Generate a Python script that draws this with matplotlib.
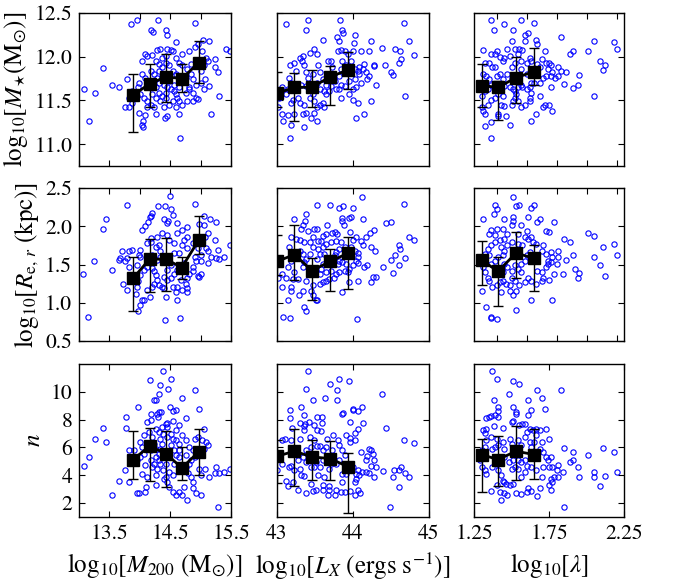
import numpy as np
import matplotlib
matplotlib.use("Agg")
from matplotlib import pyplot as plt

plt.rcParams['font.family'] = 'serif'
plt.rcParams['font.serif'] = ['STIXGeneral', 'Liberation Serif', 'DejaVu Serif']
plt.rcParams['mathtext.fontset'] = 'stix'

# ---------------- scatter data ----------------
# row 1: log10 M*  ;  row 2: log10 Re ;  row 3: Sersic n
ms_m200 = [(13.85, 12.37), (13.96, 12.42), (14.30, 12.42), (14.90, 12.39), (14.19, 12.30), (14.22, 12.28),
           (14.43, 12.31), (14.45, 12.25), (14.59, 12.17), (15.04, 12.19), (15.13, 12.18), (15.41, 12.09),
           (15.48, 12.07), (13.40, 11.87), (13.08, 11.63), (13.27, 11.59), (13.54, 11.68), (13.66, 11.65),
           (13.17, 11.26), (13.79, 11.75), (13.98, 11.70), (13.97, 11.65), (13.87, 11.61), (13.82, 11.53),
           (13.76, 11.43), (13.82, 11.42), (13.98, 11.36), (14.08, 11.33), (14.26, 11.35), (14.41, 11.30),
           (14.45, 11.32), (14.65, 11.34), (14.06, 11.26), (14.04, 11.22), (14.05, 11.20), (14.66, 11.07),
           (15.17, 11.34), (15.31, 11.55), (15.24, 11.97), (15.28, 11.83), (15.24, 11.88), (15.08, 11.75),
           (15.06, 11.63), (15.14, 11.67), (14.81, 11.63), (14.78, 11.49), (14.87, 11.49), (14.92, 11.53),
           (14.95, 11.52), (14.09, 12.03), (14.12, 12.01), (14.20, 12.02), (14.04, 11.95), (14.29, 12.08),
           (14.34, 12.09), (14.45, 12.09), (14.51, 12.08), (14.54, 12.07), (14.59, 11.99), (14.70, 12.03),
           (14.81, 12.07), (14.90, 12.11), (14.95, 12.15), (15.03, 12.07), (15.09, 11.99), (15.12, 11.95),
           (14.65, 11.93), (14.70, 11.90), (14.18, 11.84), (14.23, 11.80), (14.31, 11.84), (14.37, 11.88),
           (14.43, 11.93), (14.48, 11.90), (14.54, 11.84), (14.59, 11.80), (14.29, 11.76), (14.31, 11.70),
           (14.40, 11.68), (14.45, 11.65), (14.51, 11.63), (14.56, 11.61), (14.59, 11.57), (14.62, 11.53),
           (14.54, 11.49), (14.48, 11.45), (14.40, 11.42), (14.34, 11.49), (14.26, 11.53), (14.20, 11.57),
           (14.18, 11.45), (14.12, 11.43), (14.23, 11.43), (14.59, 11.42), (14.31, 11.59), (14.37, 11.55),
           (14.43, 11.53), (14.70, 11.72), (14.76, 11.76), (14.84, 11.80), (14.87, 11.74), (14.92, 11.68),
           (14.81, 11.65), (14.76, 11.59), (14.87, 11.59), (15.01, 11.70), (14.12, 11.49), (14.07, 11.53),
           (14.01, 11.57), (13.96, 11.55), (13.87, 11.47), (14.65, 11.65), (14.56, 11.68), (14.48, 11.72),
           (14.65, 11.49), (14.70, 11.45), (14.37, 11.99), (14.43, 12.01), (14.26, 11.95), (14.31, 11.92),
           (14.09, 11.76), (14.04, 11.80), (15.01, 11.84), (15.06, 11.90), (14.84, 11.92), (14.78, 11.86),
           (14.37, 11.78), (14.26, 11.65), (14.43, 11.59)]

ms_lx = [(43.12, 12.37), (43.41, 12.42), (43.38, 12.30), (43.83, 12.42), (43.86, 12.31), (43.87, 12.27),
         (43.79, 12.22), (43.81, 12.18), (43.60, 12.19), (44.02, 12.25), (44.01, 12.16), (44.24, 12.18),
         (44.67, 12.39), (44.74, 12.18), (44.80, 12.02), (44.38, 12.10), (44.55, 12.09), (44.62, 12.07),
         (44.63, 11.97), (44.61, 11.93), (44.50, 11.83), (44.53, 11.79), (44.42, 11.90), (44.27, 11.91),
         (44.28, 11.89), (44.30, 11.68), (44.24, 11.49), (44.14, 11.35), (44.04, 11.30), (44.68, 11.55),
         (44.11, 12.07), (44.21, 12.07), (43.49, 12.09), (43.52, 12.03), (43.43, 12.04), (43.34, 12.01),
         (43.30, 11.99), (43.23, 11.93), (43.17, 11.91), (43.25, 11.84), (43.33, 11.95), (43.36, 11.90),
         (43.38, 11.82), (43.41, 11.76), (43.47, 11.80), (43.54, 11.90), (43.56, 11.82), (43.60, 11.74),
         (43.65, 11.68), (43.62, 11.61), (43.67, 11.95), (43.71, 11.95), (43.73, 11.88), (43.80, 12.07),
         (43.84, 12.08), (43.89, 12.07), (43.93, 12.03), (44.00, 12.07), (43.86, 11.95), (43.91, 11.90),
         (44.02, 11.86), (44.06, 11.84), (44.08, 11.88), (44.13, 11.86), (44.17, 11.82), (44.21, 11.78),
         (44.19, 11.74), (44.10, 11.70), (44.04, 11.65), (44.00, 11.63), (43.95, 11.57), (44.00, 11.51),
         (44.06, 11.47), (43.89, 11.67), (43.84, 11.68), (43.82, 11.63), (43.84, 11.53), (43.76, 11.72),
         (43.71, 11.67), (43.69, 11.61), (43.65, 11.57), (43.60, 11.47), (43.62, 11.42), (43.56, 11.45),
         (43.52, 11.42), (43.49, 11.36), (43.45, 11.30), (43.52, 11.26), (43.36, 11.20), (43.17, 11.07),
         (43.19, 11.22), (43.08, 11.26), (43.06, 11.34), (43.14, 11.33), (43.22, 11.34), (43.01, 11.43),
         (43.16, 11.76), (43.19, 11.70), (43.14, 11.63), (43.12, 11.57), (43.21, 11.51), (43.19, 11.47),
         (43.28, 11.53), (43.30, 11.47), (43.36, 11.45), (43.38, 11.36), (43.34, 11.35), (43.43, 11.53),
         (43.47, 11.57), (43.49, 11.49), (43.45, 11.63), (43.38, 11.67), (43.32, 11.68), (43.97, 11.95),
         (44.08, 11.80), (44.15, 11.92), (43.84, 11.86), (43.78, 11.63), (43.73, 11.80), (43.82, 11.78),
         (43.95, 11.72), (44.02, 11.74), (43.56, 11.63), (43.52, 11.70), (43.06, 11.65), (43.03, 11.53)]

ms_lam = [(1.36, 12.42), (1.45, 12.37), (1.56, 12.42), (1.65, 12.39), (1.38, 12.30), (1.51, 12.31),
          (1.59, 12.25), (1.61, 12.27), (1.59, 12.18), (1.66, 12.19), (1.67, 12.15), (1.50, 12.18),
          (1.83, 12.22), (2.05, 12.18), (2.18, 12.17), (2.20, 12.09), (2.01, 12.07), (1.91, 12.06),
          (1.89, 12.03), (2.09, 11.95), (2.12, 11.90), (2.11, 11.85), (1.95, 11.79), (1.94, 11.68),
          (1.91, 11.64), (2.05, 11.55), (1.31, 12.08), (1.40, 12.07), (1.39, 12.03), (1.36, 12.03),
          (1.45, 11.99), (1.44, 11.95), (1.42, 12.00), (1.47, 12.09), (1.52, 12.09), (1.55, 12.09),
          (1.57, 12.08), (1.54, 12.03), (1.49, 12.01), (1.62, 11.99), (1.63, 11.95), (1.60, 11.93),
          (1.56, 11.95), (1.52, 11.93), (1.70, 11.97), (1.72, 12.07), (1.73, 11.93), (1.75, 11.93),
          (1.76, 11.90), (1.74, 11.86), (1.77, 11.82), (1.81, 11.88), (1.83, 11.84), (1.86, 11.83),
          (1.81, 11.78), (1.79, 11.76), (1.76, 11.78), (1.73, 11.78), (1.71, 11.76), (1.69, 11.70),
          (1.65, 11.70), (1.63, 11.70), (1.62, 11.65), (1.60, 11.63), (1.57, 11.65), (1.54, 11.65),
          (1.51, 11.63), (1.49, 11.65), (1.45, 11.67), (1.44, 11.74), (1.42, 11.80), (1.37, 11.88),
          (1.35, 11.93), (1.32, 11.93), (1.31, 11.80), (1.33, 11.78), (1.35, 11.74), (1.36, 11.68),
          (1.34, 11.63), (1.32, 11.61), (1.30, 11.55), (1.30, 11.43), (1.31, 11.38), (1.32, 11.34),
          (1.34, 11.45), (1.36, 11.51), (1.39, 11.53), (1.41, 11.57), (1.44, 11.55), (1.43, 11.45),
          (1.45, 11.44), (1.41, 11.34), (1.41, 11.32), (1.46, 11.32), (1.49, 11.22), (1.32, 11.21),
          (1.36, 11.25), (1.36, 11.07), (1.63, 11.26), (1.66, 11.35), (1.71, 11.42), (1.72, 11.45),
          (1.69, 11.55), (1.62, 11.53), (1.62, 11.49), (1.59, 11.45), (1.56, 11.42), (1.52, 11.53),
          (1.50, 11.45), (1.51, 11.49), (1.53, 11.57), (1.54, 11.49), (1.52, 11.61), (1.76, 11.65),
          (1.69, 11.88), (1.67, 11.92), (1.65, 11.86), (1.60, 11.80), (1.56, 11.86), (1.54, 11.76),
          (1.50, 11.76), (1.47, 11.80), (1.50, 11.88), (1.75, 11.45), (1.77, 11.38), (1.63, 11.59),
          (1.56, 11.68), (1.85, 11.69), (1.39, 11.88), (1.40, 11.78)]

re_m200 = [(14.49, 2.39), (13.79, 2.28), (14.90, 2.29), (13.44, 2.10), (13.40, 1.96), (14.30, 2.26),
           (14.41, 2.27), (14.20, 2.17), (14.19, 2.13), (14.17, 2.12), (14.14, 2.05), (14.08, 2.00),
           (14.04, 1.95), (14.39, 2.09), (14.44, 2.04), (14.46, 2.07), (14.52, 2.23), (14.55, 2.15),
           (14.62, 2.04), (14.62, 1.91), (14.70, 1.95), (14.78, 1.99), (15.06, 2.13), (15.16, 2.09),
           (15.06, 2.02), (15.25, 2.06), (15.23, 1.82), (15.28, 1.69), (15.25, 1.58), (15.31, 1.57),
           (15.39, 1.60), (15.49, 1.75), (14.97, 2.03), (15.12, 1.91), (15.07, 1.86), (14.95, 1.71),
           (15.09, 1.71), (15.17, 1.60), (15.12, 1.67), (15.01, 1.62), (15.01, 1.54), (15.12, 1.52),
           (15.01, 1.38), (14.98, 1.34), (14.95, 1.35), (14.87, 1.41), (14.81, 1.38), (14.78, 1.32),
           (14.76, 1.25), (14.78, 1.19), (14.78, 1.14), (14.67, 1.30), (14.62, 1.21), (14.59, 1.14),
           (14.62, 1.04), (14.66, 0.80), (14.41, 0.77), (14.43, 1.08), (14.40, 1.19), (14.36, 1.21),
           (14.31, 1.23), (14.29, 1.30), (14.26, 1.36), (14.23, 1.41), (14.20, 1.45), (14.12, 1.47),
           (14.07, 1.43), (14.01, 1.36), (13.97, 1.28), (13.96, 1.21), (13.93, 1.12), (14.00, 0.97),
           (13.97, 0.89), (14.04, 1.04), (14.07, 1.04), (14.12, 1.17), (14.16, 1.08), (14.20, 1.21),
           (14.23, 1.25), (14.29, 1.56), (14.34, 1.60), (14.34, 1.67), (14.31, 1.75), (14.26, 1.73),
           (14.29, 1.86), (14.37, 1.91), (14.45, 1.89), (14.48, 1.82), (14.56, 1.78), (14.56, 1.65),
           (14.65, 1.65), (14.70, 1.75), (14.73, 1.82), (14.78, 1.71), (14.78, 1.86), (14.87, 1.78),
           (14.90, 1.60), (14.92, 1.54), (14.87, 1.47), (14.73, 1.52), (14.67, 1.43), (14.51, 1.49),
           (14.45, 1.43), (14.40, 1.34), (14.45, 1.30), (14.51, 1.32), (14.56, 1.38), (14.62, 1.43),
           (14.54, 1.21), (14.70, 1.17), (13.79, 1.17), (13.73, 1.25), (13.82, 1.47), (13.76, 1.54),
           (13.79, 1.58), (13.82, 1.67), (13.87, 1.69), (14.01, 1.69), (14.01, 1.60), (14.12, 1.78),
           (14.18, 1.80), (14.19, 1.84), (13.98, 1.62), (13.96, 1.49), (14.20, 1.62), (13.54, 1.43),
           (13.67, 1.58), (13.07, 1.37), (13.15, 0.82), (13.25, 1.54), (13.70, 1.68), (13.65, 1.56)]

re_lx = [(44.12, 2.38), (44.67, 2.29), (43.53, 2.28), (43.70, 2.28), (43.81, 2.24), (43.87, 2.26),
         (44.00, 2.24), (43.23, 2.10), (43.38, 2.16), (43.37, 2.07), (43.34, 2.01), (43.32, 1.97),
         (43.49, 1.97), (43.52, 1.97), (43.66, 2.02), (43.86, 2.11), (43.86, 2.07), (43.88, 2.01),
         (43.95, 2.11), (43.97, 2.12), (44.13, 2.10), (44.28, 1.95), (44.22, 1.91), (44.17, 1.86),
         (44.10, 1.81), (44.13, 1.75), (44.24, 1.73), (44.29, 1.68), (44.43, 2.04), (44.50, 2.06),
         (44.74, 1.86), (44.80, 1.82), (44.61, 1.75), (44.62, 1.70), (44.69, 1.59), (44.55, 1.62),
         (44.50, 1.56), (44.61, 1.50), (44.53, 1.39), (44.39, 1.47), (44.26, 1.34), (44.30, 1.34),
         (44.24, 1.27), (44.19, 1.50), (44.15, 1.47), (44.07, 1.52), (44.07, 1.28), (43.95, 1.27),
         (43.86, 1.14), (44.05, 0.79), (43.08, 0.82), (43.17, 0.80), (43.36, 0.94), (43.38, 0.89),
         (43.14, 1.04), (43.06, 1.20), (43.18, 1.20), (43.19, 1.16), (43.29, 1.10), (43.34, 1.16),
         (43.38, 1.29), (43.47, 1.10), (43.51, 1.04), (43.52, 1.04), (43.45, 1.16), (43.47, 1.23),
         (43.56, 1.25), (43.60, 1.27), (43.65, 1.29), (43.69, 1.31), (43.75, 1.33), (43.78, 1.38),
         (43.82, 1.40), (43.89, 1.42), (43.95, 1.44), (44.00, 1.49), (44.04, 1.54), (44.06, 1.60),
         (44.07, 1.65), (44.02, 1.68), (43.97, 1.73), (44.00, 1.82), (44.04, 1.86), (43.96, 1.92),
         (43.76, 1.92), (43.79, 1.90), (43.72, 1.91), (43.65, 1.90), (43.60, 1.87), (43.58, 1.81),
         (43.54, 1.81), (43.47, 1.86), (43.43, 1.80), (43.36, 1.79), (43.30, 1.82), (43.25, 1.83),
         (43.19, 1.86), (43.16, 1.73), (43.19, 1.55), (43.14, 1.47), (43.12, 1.33), (43.21, 1.31),
         (43.28, 1.31), (43.23, 1.40), (43.34, 1.47), (43.36, 1.53), (43.38, 1.57), (43.43, 1.64),
         (43.47, 1.73), (43.54, 1.70), (43.60, 1.73), (43.65, 1.77), (43.71, 1.79), (43.78, 1.81),
         (43.84, 1.79), (43.89, 1.73), (43.82, 1.70), (43.78, 1.66), (43.76, 1.62), (43.62, 1.64),
         (43.56, 1.64), (43.52, 1.57), (43.60, 1.51), (43.58, 1.44), (43.56, 1.38), (43.65, 1.40),
         (43.71, 1.42), (43.80, 1.51), (43.82, 1.55), (43.86, 1.53), (43.91, 1.51), (43.93, 1.40),
         (43.41, 1.94), (43.03, 1.51), (43.01, 1.33), (43.07, 1.38), (43.34, 1.64), (43.30, 1.68)]

re_lam = [(1.51, 2.38), (1.39, 2.28), (1.40, 2.23), (1.53, 2.26), (1.55, 2.28), (1.63, 2.24),
          (1.65, 2.28), (1.31, 2.10), (1.38, 2.16), (1.45, 2.10), (1.51, 2.12), (1.51, 2.07),
          (1.50, 2.01), (1.56, 2.01), (1.61, 2.12), (1.67, 2.05), (1.69, 2.10), (1.78, 2.06),
          (1.73, 1.94), (1.75, 1.92), (1.85, 1.83), (1.89, 1.80), (2.01, 1.91), (2.05, 1.87),
          (2.11, 1.73), (2.18, 1.77), (2.20, 1.62), (2.05, 1.60), (2.09, 1.50), (2.12, 1.35),
          (1.95, 1.39), (1.94, 1.33), (1.92, 1.44), (1.91, 1.62), (1.86, 1.56), (1.81, 1.68),
          (1.81, 1.60), (1.84, 1.37), (1.78, 1.37), (1.75, 1.30), (1.77, 1.03), (1.63, 1.04),
          (1.53, 0.90), (1.36, 0.82), (1.36, 0.80), (1.40, 0.79), (1.33, 0.94), (1.30, 1.16),
          (1.36, 1.95), (1.35, 1.90), (1.40, 1.97), (1.39, 1.88), (1.44, 1.97), (1.47, 1.90),
          (1.45, 1.83), (1.42, 1.82), (1.39, 1.79), (1.36, 1.75), (1.34, 1.70), (1.32, 1.64),
          (1.31, 1.47), (1.32, 1.40), (1.34, 1.33), (1.35, 1.29), (1.37, 1.20), (1.40, 1.23),
          (1.42, 1.27), (1.44, 1.29), (1.46, 1.25), (1.49, 1.23), (1.49, 1.16), (1.51, 1.10),
          (1.53, 1.16), (1.55, 1.23), (1.59, 1.27), (1.61, 1.33), (1.63, 1.29), (1.66, 1.25),
          (1.70, 1.29), (1.71, 1.33), (1.70, 1.40), (1.67, 1.42), (1.73, 1.47), (1.74, 1.51),
          (1.76, 1.53), (1.77, 1.60), (1.76, 1.66), (1.73, 1.64), (1.70, 1.68), (1.71, 1.75),
          (1.66, 1.77), (1.64, 1.79), (1.61, 1.83), (1.59, 1.86), (1.57, 1.75), (1.54, 1.77),
          (1.50, 1.79), (1.47, 1.75), (1.45, 1.68), (1.43, 1.73), (1.44, 1.62), (1.41, 1.60),
          (1.39, 1.55), (1.36, 1.51), (1.35, 1.62), (1.45, 1.51), (1.47, 1.47), (1.50, 1.42),
          (1.52, 1.49), (1.54, 1.44), (1.56, 1.40), (1.56, 1.51), (1.59, 1.55), (1.60, 1.62),
          (1.62, 1.66), (1.50, 1.33), (1.52, 1.29), (1.44, 1.40), (1.43, 1.14), (1.54, 1.90),
          (1.60, 1.94), (1.63, 1.86), (1.74, 1.55), (1.80, 1.51)]

n_m200 = [(14.38, 11.51), (14.16, 10.84), (14.52, 10.89), (14.33, 10.50), (14.46, 10.17), (14.31, 9.81),
          (14.90, 10.12), (14.69, 9.59), (14.26, 9.40), (14.24, 9.40), (13.97, 8.92), (14.98, 8.75),
          (14.50, 8.92), (14.59, 8.68), (14.54, 8.61), (14.31, 8.56), (14.29, 8.44), (14.35, 8.56),
          (14.19, 8.39), (14.18, 7.96), (14.12, 7.82), (14.30, 8.20), (14.43, 7.72), (14.45, 7.77),
          (14.55, 7.89), (14.65, 7.58), (14.76, 8.15), (13.77, 8.20), (13.77, 7.43), (13.40, 7.41),
          (13.27, 6.59), (13.44, 6.40), (13.17, 5.28), (13.08, 4.70), (13.54, 2.59), (13.66, 3.57),
          (13.82, 3.52), (13.75, 4.36), (13.82, 5.85), (13.90, 5.80), (13.96, 5.08), (14.01, 5.32),
          (14.07, 5.56), (14.09, 4.72), (14.04, 4.12), (14.12, 3.88), (14.10, 3.17), (14.08, 2.81),
          (13.96, 2.76), (13.98, 2.76), (14.26, 3.29), (14.26, 4.00), (14.29, 4.48), (14.23, 4.84),
          (14.18, 5.08), (14.20, 4.60), (14.26, 5.32), (14.31, 5.08), (14.34, 4.84), (14.38, 4.36),
          (14.43, 3.88), (14.40, 3.72), (14.45, 3.52), (14.48, 3.17), (14.54, 2.81), (14.59, 2.57),
          (14.65, 2.81), (14.73, 3.17), (14.78, 2.25), (14.70, 2.57), (14.87, 3.05), (14.92, 2.69),
          (15.01, 2.55), (14.88, 3.50), (14.84, 3.88), (14.80, 4.17), (14.76, 4.60), (14.81, 4.84),
          (14.84, 5.08), (14.90, 5.32), (14.98, 4.48), (15.01, 4.00), (15.07, 4.48), (15.13, 3.88),
          (15.25, 4.60), (15.24, 4.17), (15.31, 4.17), (15.39, 4.24), (15.48, 4.44), (15.28, 1.73),
          (15.09, 6.40), (15.06, 5.92), (15.12, 6.16), (15.03, 6.52), (14.90, 6.59), (14.95, 6.76),
          (15.06, 7.36), (14.65, 6.28), (14.59, 6.52), (14.54, 6.64), (14.51, 6.16), (14.56, 5.80),
          (14.59, 5.44), (14.56, 4.84), (14.65, 5.32), (14.38, 7.00), (14.34, 6.64), (14.31, 7.12),
          (14.26, 7.36), (14.20, 6.76), (14.15, 7.12), (14.07, 6.88), (14.01, 6.40), (14.04, 6.04),
          (14.26, 5.92), (14.23, 6.28), (14.37, 6.28), (14.45, 6.76), (14.59, 7.24), (14.70, 6.88),
          (14.76, 6.52), (14.81, 6.04), (14.65, 5.80), (14.76, 5.44), (14.87, 5.80), (14.54, 4.00),
          (14.48, 4.24), (14.43, 4.84), (14.18, 5.80), (13.93, 5.32), (14.31, 5.56), (14.34, 5.92),
          (14.45, 7.48), (14.37, 7.48), (14.51, 7.00)]

n_lx = [(43.41, 11.51), (43.38, 10.17), (43.70, 10.53), (43.81, 10.89), (43.95, 10.79), (43.79, 10.12),
        (43.79, 9.40), (43.63, 9.59), (43.48, 9.40), (44.38, 9.83), (43.31, 8.92), (43.17, 8.68),
        (43.17, 8.15), (43.36, 8.32), (43.86, 8.39), (43.87, 8.49), (44.00, 8.73), (44.00, 8.68),
        (44.07, 8.63), (44.12, 8.92), (44.13, 7.77), (43.96, 7.84), (44.07, 7.36), (44.03, 7.05),
        (43.96, 6.71), (43.96, 6.40), (43.91, 6.88), (44.02, 6.52), (44.43, 7.41), (44.67, 6.57),
        (44.80, 6.33), (44.10, 5.68), (44.21, 5.92), (44.24, 5.80), (44.26, 5.56), (44.19, 5.37),
        (44.17, 5.08), (44.28, 5.08), (44.24, 4.65), (44.30, 4.56), (44.39, 4.32), (44.52, 3.88),
        (44.54, 4.36), (44.61, 4.36), (44.63, 4.60), (44.69, 4.17), (44.74, 3.84), (44.61, 3.17),
        (44.49, 1.73), (44.27, 3.88), (44.21, 4.17), (44.17, 4.24), (44.12, 4.24), (44.08, 4.00),
        (44.04, 3.76), (44.04, 4.12), (44.02, 3.52), (44.09, 2.69), (44.02, 2.57), (44.07, 2.93),
        (43.96, 2.88), (43.90, 2.81), (43.84, 2.81), (43.86, 3.52), (43.78, 2.93), (43.76, 2.61),
        (43.69, 3.21), (43.68, 2.93), (43.67, 2.57), (43.60, 2.93), (43.61, 3.29), (43.62, 3.88),
        (43.69, 4.48), (43.71, 4.84), (43.67, 5.08), (43.60, 5.08), (43.56, 4.60), (43.49, 4.60),
        (43.45, 4.60), (43.47, 5.32), (43.51, 4.96), (43.54, 4.00), (43.47, 2.88), (43.51, 2.97),
        (43.45, 3.36), (43.38, 2.73), (43.35, 3.93), (43.32, 4.00), (43.30, 4.48), (43.28, 2.93),
        (43.21, 3.52), (43.14, 3.21), (43.12, 3.60), (43.16, 4.56), (43.19, 4.65), (43.06, 4.84),
        (43.00, 4.36), (43.06, 6.57), (43.11, 6.59), (43.20, 7.41), (43.19, 6.52), (43.30, 6.64),
        (43.35, 7.24), (43.35, 7.53), (43.37, 7.67), (43.30, 7.77), (43.42, 7.84), (43.49, 7.60),
        (43.53, 8.20), (43.59, 8.20), (43.59, 7.77), (43.52, 7.24), (43.43, 6.76), (43.49, 6.57),
        (43.58, 7.17), (43.66, 6.59), (43.74, 6.88), (43.80, 6.52), (43.82, 6.16), (43.86, 5.85),
        (43.89, 5.44), (43.82, 5.08), (43.78, 4.84), (43.73, 5.80), (43.65, 6.04), (43.60, 5.80),
        (43.56, 6.09), (43.38, 5.85), (43.41, 5.56), (43.34, 5.32), (43.38, 4.96), (43.45, 6.04),
        (43.52, 6.09), (43.28, 5.08), (43.23, 4.36), (43.91, 4.12), (43.95, 4.36), (44.00, 4.60),
        (44.06, 4.36), (43.86, 4.12)]

n_lam = [(1.37, 11.51), (1.40, 10.89), (1.51, 10.79), (1.55, 10.53), (1.67, 10.12), (1.83, 10.12),
         (1.48, 9.81), (1.70, 9.59), (1.38, 9.40), (1.41, 8.92), (1.41, 8.63), (1.51, 8.92),
         (1.53, 8.56), (1.53, 8.39), (1.63, 8.68), (1.61, 9.40), (1.72, 8.75), (1.61, 8.32),
         (1.59, 7.72), (1.57, 7.72), (1.51, 7.89), (1.50, 7.84), (1.55, 7.60), (1.36, 8.25),
         (1.33, 8.15), (1.35, 8.20), (1.39, 8.32), (1.41, 8.20), (1.31, 7.24), (1.33, 7.36),
         (1.32, 7.05), (1.38, 7.55), (1.44, 7.41), (1.36, 6.76), (1.40, 6.64), (1.44, 6.40),
         (1.45, 5.92), (1.41, 6.16), (1.39, 6.04), (1.37, 5.92), (1.33, 6.52), (1.32, 6.04),
         (1.30, 5.80), (1.29, 5.08), (1.30, 4.60), (1.33, 4.12), (1.32, 4.36), (1.37, 4.60),
         (1.40, 4.84), (1.41, 4.36), (1.43, 4.00), (1.44, 3.60), (1.45, 3.52), (1.46, 3.40),
         (1.42, 2.81), (1.45, 2.69), (1.47, 2.57), (1.43, 2.25), (1.36, 2.88), (1.40, 3.29),
         (1.49, 3.29), (1.51, 3.40), (1.53, 2.73), (1.56, 2.64), (1.60, 2.81), (1.61, 3.05),
         (1.63, 2.85), (1.67, 2.52), (1.69, 3.05), (1.76, 2.93), (1.75, 3.29), (1.77, 3.52),
         (1.76, 3.76), (1.78, 3.88), (1.81, 3.88), (1.70, 3.88), (1.66, 4.36), (1.63, 4.60),
         (1.60, 4.65), (1.59, 4.24), (1.56, 3.88), (1.54, 4.48), (1.52, 4.60), (1.50, 4.48),
         (1.48, 4.96), (1.51, 5.13), (1.54, 5.08), (1.56, 4.96), (1.59, 5.08), (1.63, 6.04),
         (1.62, 6.40), (1.59, 6.76), (1.60, 7.12), (1.62, 7.36), (1.64, 7.24), (1.66, 7.36),
         (1.69, 7.24), (1.73, 7.36), (1.75, 6.64), (1.70, 6.40), (1.69, 5.92), (1.71, 5.68),
         (1.73, 5.32), (1.76, 5.32), (1.74, 5.08), (1.75, 4.60), (1.77, 4.60), (1.80, 4.36),
         (1.81, 4.72), (1.84, 4.24), (1.85, 1.73), (1.85, 5.97), (1.91, 5.68), (1.89, 4.96),
         (1.91, 5.08), (1.94, 4.60), (1.95, 3.88), (2.01, 5.49), (2.05, 4.20), (2.05, 3.88),
         (2.12, 3.93), (2.09, 3.21), (2.11, 5.97), (2.18, 5.68), (2.20, 4.24), (1.49, 6.64),
         (1.50, 6.28), (1.54, 6.52), (1.56, 6.16), (1.45, 5.32), (1.65, 6.40), (1.66, 6.88),
         (1.65, 5.32), (1.71, 4.60)]

# ---------------- binned medians (black squares) ----------------
bin_m200 = [13.89, 14.16, 14.43, 14.69, 14.97]
bin_lx = [43.00, 43.23, 43.46, 43.70, 43.94]
bin_lam = [1.30, 1.41, 1.53, 1.65]

# (median, low, high) per bin
ms_m200_bin = ([11.56, 11.69, 11.77, 11.75, 11.93], [11.14, 11.42, 11.48, 11.60, 11.70], [11.80, 11.92, 12.03, 11.92, 12.18])
ms_lx_bin = ([11.58, 11.65, 11.65, 11.77, 11.85], [11.43, 11.27, 11.43, 11.45, 11.63], [11.82, 11.81, 11.85, 11.89, 12.05])
ms_lam_bin = ([11.67, 11.65, 11.76, 11.83], [11.42, 11.28, 11.47, 11.68], [11.92, 11.72, 12.00, 12.10])
re_m200_bin = ([1.32, 1.57, 1.57, 1.46, 1.82], [0.89, 1.14, 1.15, 1.31, 1.64], [1.60, 1.83, 1.84, 1.60, 2.13])
re_lx_bin = ([1.54, 1.63, 1.42, 1.54, 1.65], [1.36, 1.30, 1.04, 1.15, 1.18], [1.89, 2.02, 1.59, 1.70, 1.86])
re_lam_bin = ([1.56, 1.41, 1.65, 1.58], [1.23, 0.96, 1.33, 1.16], [1.81, 1.60, 1.92, 1.76])
n_m200_bin = ([5.13, 6.09, 5.56, 4.53, 5.68], [3.76, 3.60, 3.17, 3.64, 4.00], [7.17, 7.43, 7.19, 6.04, 7.31])
n_lx_bin = ([5.37, 5.73, 5.32, 5.20, 4.60], [3.45, 3.21, 3.64, 3.64, 1.29], [6.52, 7.36, 6.52, 6.45, 5.61])
n_lam_bin = ([5.49, 5.13, 5.73, 5.49], [2.81, 3.21, 3.69, 3.72], [6.64, 6.81, 7.53, 7.36])

# ---------------- axes settings ----------------
xlims = [(13.0, 15.5), (43.0, 45.0), (1.25, 2.25)]
xticks_top = [[13.0, 13.5, 14.0, 14.5, 15.0, 15.5], [43, 44, 45], [1.4, 1.6, 1.8, 2.0, 2.2]]
xticks_bottom = [[13.5, 14.5, 15.5], [43, 44, 45], [1.25, 1.75, 2.25]]
xticklabels = [['13.5', '14.5', '15.5'], ['43', '44', '45'], ['1.25', '1.75', '2.25']]
xlabels = [r'$\mathrm{log}_{10}[M_{200}\ (\mathrm{M}_{\odot})]$',
           r'$\mathrm{log}_{10}[L_X\ (\mathrm{ergs\ s}^{-1})]$',
           r'$\mathrm{log}_{10}[\lambda]$']

ylims = [(10.75, 12.5), (0.5, 2.5), (1.0, 12.0)]
yticks = [[11.0, 11.5, 12.0, 12.5], [0.5, 1.0, 1.5, 2.0, 2.5], [2, 4, 6, 8, 10]]
yticklabels = [['11.0', '11.5', '12.0', '12.5'], ['0.5', '1.0', '1.5', '2.0', '2.5'], ['2', '4', '6', '8', '10']]
ylabels = [r'$\mathrm{log}_{10}[M_{\star}(\mathrm{M}_{\odot})]$',
           r'$\mathrm{log}_{10}[R_{\mathrm{e},\,r}\ (\mathrm{kpc})]$',
           r'$n$']

scatter = [[ms_m200, ms_lx, ms_lam], [re_m200, re_lx, re_lam], [n_m200, n_lx, n_lam]]
bins_x = [bin_m200, bin_lx, bin_lam]
bins_y = [[ms_m200_bin, ms_lx_bin, ms_lam_bin],
          [re_m200_bin, re_lx_bin, re_lam_bin],
          [n_m200_bin, n_lx_bin, n_lam_bin]]

W, H = 687, 587
fig = plt.figure(figsize=(W / 100, H / 100), dpi=100)
col_left = [79, 277, 474]
col_w = [152, 152, 150]
row_top = [13, 188, 364]
row_h = 153

for i in range(3):
    for j in range(3):
        ax = fig.add_axes([col_left[j] / W, 1 - (row_top[i] + row_h) / H, col_w[j] / W, row_h / H])
        pts = np.array(scatter[i][j])
        ax.plot(pts[:, 0], pts[:, 1], 'o', mfc='none', mec='#0000ff', ms=3.8, mew=0.8, zorder=2)

        med, lo, hi = (np.array(a) for a in bins_y[i][j])
        ax.errorbar(bins_x[j], med, yerr=[med - lo, hi - med], fmt='s-', color='k', ms=8.5,
                    lw=2, elinewidth=1, ecolor='k', capsize=3.5, capthick=1, zorder=3)

        ax.set_xlim(*xlims[j])
        ax.set_ylim(*ylims[i])
        ax.tick_params(direction='in', top=True, right=True, length=4, width=0.8, labelsize=15.5, pad=5)
        for s in ax.spines.values():
            s.set_linewidth(1.0)

        if i == 2:
            ax.set_xticks(xticks_bottom[j])
            ax.set_xticklabels(xticklabels[j])
            ax.set_xlabel(xlabels[j], fontsize=18, labelpad=5)
        else:
            ax.set_xticks(xticks_top[j])
            ax.set_xticklabels([])

        ax.set_yticks(yticks[i])
        if j == 0:
            ax.set_yticklabels(yticklabels[i])
            ax.set_ylabel(ylabels[i], fontsize=18, labelpad=3)
        else:
            ax.set_yticklabels([])

fig.savefig('out.png', dpi=100)
